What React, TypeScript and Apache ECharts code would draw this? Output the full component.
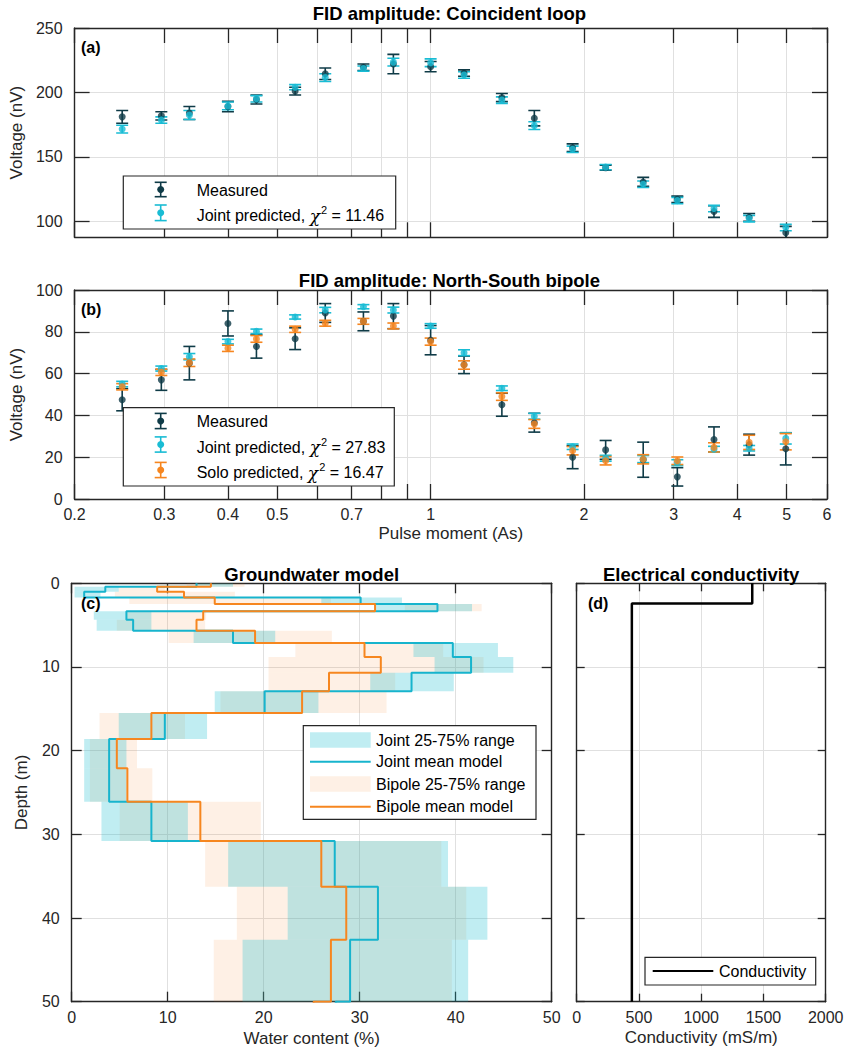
import React, { useEffect, useRef } from 'react';
import * as echarts from 'echarts';

// ---------------- data ----------------
const pulseMoments = [0.248, 0.296, 0.336, 0.40, 0.455, 0.542, 0.621, 0.738, 0.845, 1.0, 1.163, 1.38, 1.598, 1.9, 2.206, 2.614, 3.05, 3.6, 4.22, 4.98];

// (a) coincident loop
const loopMeasured = [181, 181.8, 184, 189, 194.5, 201, 214.5, 219.5, 222, 220, 215, 196, 180, 157, 141.5, 130.5, 117, 107.5, 103, 91];
const loopMeasuredErr = [5, 3.2, 5, 4, 3.5, 3, 4.5, 2.5, 7.5, 4, 2.5, 3.2, 6, 3, 2, 3.5, 2.5, 4.5, 3, 5];
const loopJoint = [171.5, 178.5, 182.5, 189.5, 195, 204, 211.5, 218.5, 223.5, 223, 213.5, 194, 174.2, 155.8, 142, 128.7, 116, 109.8, 102, 95.1];
const loopJointErr = [3, 2.5, 3.5, 3, 2.5, 2, 3, 2, 3, 3, 2.5, 2.5, 3, 2.5, 2, 2.5, 2.5, 2.5, 2.5, 2.5];

// (b) north-south bipole
const nsMeasured = [47.5, 57, 65, 84, 73, 76.7, 89, 85, 87.5, 76, 64.2, 45.1, 36.5, 20, 23.5, 18.8, 10.6, 28.5, 26, 24];
const nsMeasuredErr = [5.3, 5, 8, 6, 5.6, 5.2, 4.5, 4.5, 6, 7, 4.2, 5.5, 4.5, 5.5, 4.5, 8.4, 4.4, 6, 5, 7.7];
const nsJoint = [55, 62.4, 68.1, 75.3, 80.2, 87.1, 90.4, 92, 90.4, 82.8, 70, 53, 39.6, 25, 19.5, 19.1, 17.4, 23.8, 24.3, 29];
const nsJointErr = [1.3, 1.2, 1.5, 1.1, 1.1, 1.0, 1.3, 1.0, 1.4, 1.1, 1.4, 1.1, 1.4, 1.3, 1.4, 1.7, 1.4, 1.4, 1.3, 2.7];
const nsSolo = [53.7, 60.6, 65.2, 72.1, 76.6, 81.2, 84.1, 85, 82.8, 75.3, 64.1, 49, 35.9, 23.1, 18.3, 19, 18.3, 24.7, 27.1, 27.4];
const nsSoloErr = [1.5, 1.5, 1.8, 1.5, 1.6, 1.5, 1.4, 1.4, 1.4, 1.7, 2.0, 1.8, 2.1, 2.0, 2.0, 2.2, 1.8, 2.2, 3.4, 3.9];

const pulseTicks = [0.2, 0.3, 0.4, 0.5, 0.6, 0.7, 0.8, 0.9, 1, 2, 3, 4, 5, 6];
const pulseLabels = [0.2, 0.3, 0.4, 0.5, 0.7, 1, 2, 3, 4, 5, 6];
const loopVoltageTicks = [100, 150, 200, 250];

// (c) groundwater model (layer tops in m; last entry is the half-space)
const layerTops = [0, 0.42, 1.0, 1.7, 2.47, 3.35, 4.35, 5.66, 7.13, 8.8, 10.7, 12.9, 15.5, 18.6, 22.1, 26.1, 30.8, 36.25, 42.6, 50];
const jointMean = [13.0, 3.5, 1.3, 30.1, 38.1, 5.7, 6.4, 16.8, 39.7, 41.6, 35.4, 20.1, 9.7, 3.9, 3.9, 8.3, 27.4, 31.9, 29.0, 27.5];
const bipoleMean = [14.5, 8.9, 11.7, 14.9, 31.6, 13.7, 13.0, 19.1, 30.5, 32.2, 26.8, 24.0, 8.3, 4.7, 5.8, 13.4, 26.0, 28.6, 27.0, 25.2];
const jointLow = [13, 0.3, 0.3, 26, 31.5, 2.3, 2.6, 12.7, 35.6, 37.8, 31.1, 14.9, 4.9, 1.3, 1.3, 3.1, 16.3, 22.5, 17.8];
const jointHigh = [16.8, 4.9, 3, 34.4, 41.7, 8.3, 8.3, 21.2, 44.4, 46.0, 39.8, 25.7, 14.1, 5.7, 5.7, 12.1, 39.2, 43.3, 41.3];
const bipoleLow = [12, 4.9, 4.5, 6, 34.7, 5.7, 4.7, 10.1, 23.3, 20.5, 20.5, 15.5, 2.9, 1.9, 1.9, 5.0, 13.9, 17.2, 14.8];
const bipoleHigh = [18, 9.7, 17, 27, 42.7, 14, 13.9, 27.1, 38.7, 42.9, 33.7, 32.8, 11.8, 6.8, 8.4, 19.7, 38.5, 41.1, 39.6];

// (d) electrical conductivity
const condTops = [0, 2.4];
const condValues = [1410, 443];

// ---------------- styling ----------------
const FONT = '"Liberation Sans", Arial, Helvetica, sans-serif';
const INK = '#262626';
const MEAS = '#0f3b47';
const JOINT = '#19bcd4';
const SOLO = '#f6861f';
const JOINT_FILL = 'rgba(23,190,207,0.27)';
const BIPOLE_FILL = 'rgba(250,135,40,0.12)';
const GRID_COLOR = '#e0e0e0';

const L = (v: number) => Math.log10(v);
const X_MIN = L(0.2);
const X_MAX = L(6);
const fmtPulse = (v: number) => {
  const q = Math.pow(10, v);
  return q < 0.95 ? q.toFixed(1) : String(Math.round(q));
};
const fmtPlain = (v: number) => String(v);

const AXIS_LINE = { show: true, onZero: false, lineStyle: { color: INK, width: 1.4 } };
const TICK_LINE = { color: INK, width: 1.3 };
const GRIDLINE = { show: true, lineStyle: { color: GRID_COLOR, width: 1 } };
const LABEL = { color: INK, fontSize: 16, fontFamily: FONT };
const NAME = { color: INK, fontSize: 17, fontFamily: FONT };

function logXAxis(gridIndex: number, position: string, withLabels: boolean) {
  return {
    type: 'value', gridIndex, position, min: X_MIN, max: X_MAX,
    axisLine: AXIS_LINE,
    axisTick: { show: true, inside: true, length: 15, lineStyle: TICK_LINE, customValues: pulseTicks.map(L) },
    axisLabel: withLabels
      ? { show: true, customValues: pulseLabels.map(L), formatter: fmtPulse, margin: 7, ...LABEL }
      : { show: false },
    splitLine: position === 'bottom' ? GRIDLINE : { show: false },
    name: withLabels ? 'Pulse moment (As)' : '',
    nameLocation: 'middle', nameGap: 26, nameTextStyle: NAME,
  };
}

function valAxis(gridIndex: number, position: string, min: number, max: number, interval: number, tickLen: number, showLabels: boolean, name: string, nameGap: number, inverse = false) {
  const main = position === 'bottom' || position === 'left';
  return {
    type: 'value', gridIndex, position, min, max, interval, inverse,
    axisLine: AXIS_LINE,
    axisTick: { show: true, inside: true, length: tickLen, lineStyle: TICK_LINE },
    axisLabel: showLabels ? { show: true, margin: position === 'left' ? 12 : 8, formatter: fmtPlain, ...LABEL } : { show: false },
    splitLine: main ? GRIDLINE : { show: false },
    name, nameLocation: 'middle', nameGap, nameTextStyle: NAME,
  };
}

function loopYAxis(position: string) {
  const main = position === 'left';
  return {
    type: 'value', gridIndex: 0, position, min: 87.5, max: 250,
    axisLine: AXIS_LINE,
    axisTick: { show: true, inside: true, length: 15, lineStyle: TICK_LINE, customValues: loopVoltageTicks },
    axisLabel: main ? { show: true, customValues: loopVoltageTicks, margin: 12, formatter: fmtPlain, ...LABEL } : { show: false },
    splitLine: main ? GRIDLINE : { show: false },
    name: main ? 'Voltage (nV)' : '', nameLocation: 'middle', nameGap: 42, nameTextStyle: NAME,
  };
}

function errorBars(name: string, xi: number, yi: number, centers: number[], errs: number[], color: string) {
  return {
    type: 'custom', name, xAxisIndex: xi, yAxisIndex: yi, clip: true,
    data: pulseMoments.map((q, i) => [L(q), centers[i] - errs[i], centers[i] + errs[i]]),
    encode: { x: 0, y: [1, 2] },
    renderItem: (_p: any, api: any) => {
      const x = api.value(0);
      const a = api.coord([x, api.value(1)]);
      const b = api.coord([x, api.value(2)]);
      const st = { stroke: color, lineWidth: 1.6 };
      return {
        type: 'group', children: [
          { type: 'line', shape: { x1: a[0], y1: a[1], x2: b[0], y2: b[1] }, style: st },
          { type: 'line', shape: { x1: a[0] - 6, y1: a[1], x2: a[0] + 6, y2: a[1] }, style: st },
          { type: 'line', shape: { x1: b[0] - 6, y1: b[1], x2: b[0] + 6, y2: b[1] }, style: st },
        ],
      };
    },
  };
}

function dots(name: string, xi: number, yi: number, centers: number[], color: string) {
  return {
    type: 'scatter', name, xAxisIndex: xi, yAxisIndex: yi, clip: true,
    data: pulseMoments.map((q, i) => [L(q), centers[i]]),
    symbol: 'circle', symbolSize: 7, itemStyle: { color },
  };
}

function rangeSeries(name: string, lows: number[], highs: number[], fill: string) {
  return {
    type: 'custom', name, xAxisIndex: 4, yAxisIndex: 4, clip: true,
    data: lows.map((lo, i) => [lo, highs[i], layerTops[i], layerTops[i + 1]]),
    encode: { x: [0, 1], y: [2, 3] },
    renderItem: (_p: any, api: any) => {
      const p1 = api.coord([api.value(0), api.value(2)]);
      const p2 = api.coord([api.value(1), api.value(3)]);
      return {
        type: 'rect',
        shape: { x: Math.min(p1[0], p2[0]), y: Math.min(p1[1], p2[1]), width: Math.abs(p2[0] - p1[0]), height: Math.abs(p2[1] - p1[1]) },
        style: { fill },
      };
    },
  };
}

function profile(values: number[], tops: number[], end: number) {
  const pts: number[][] = [];
  values.forEach((v, i) => {
    const bot = i + 1 < tops.length ? tops[i + 1] : end;
    pts.push([v, tops[i]], [v, bot]);
  });
  return pts;
}

// ---------------- graphic helpers (titles, panel letters, legends) ----------------
function text(x: number, y: number, t: string, size = 16, weight = 'normal', align = 'left') {
  return {
    type: 'text', x, y, z: 101,
    style: { text: t, fill: '#000', fontSize: size, fontWeight: weight, fontFamily: FONT, align, verticalAlign: 'middle', textAlign: align, textVerticalAlign: 'middle' },
  };
}
function chiText(x: number, y: number, prefix: string, value: string) {
  return {
    type: 'text', x, y, z: 101,
    style: {
      text: `{t|${prefix}}{c|χ}{s|2}{t| = ${value}}`,
      verticalAlign: 'middle', textVerticalAlign: 'middle',
      rich: {
        t: { fontSize: 16, fontFamily: FONT, fill: '#000', lineHeight: 22 },
        c: { fontSize: 17, fontFamily: '"DejaVu Serif", "Liberation Serif", serif', fontStyle: 'italic', fill: '#000', lineHeight: 22 },
        s: { fontSize: 11, fontFamily: FONT, fill: '#000', lineHeight: 12, verticalAlign: 'top', padding: [0, 0, 0, 1] },
      },
    },
  };
}
function box(x: number, y: number, w: number, h: number) {
  return { type: 'rect', z: 100, shape: { x, y, width: w, height: h }, style: { fill: '#fff', stroke: INK, lineWidth: 1.2 } };
}
function ebIcon(cx: number, cy: number, half: number, color: string) {
  const st = { stroke: color, lineWidth: 1.6 };
  return [
    { type: 'line', z: 101, shape: { x1: cx, y1: cy - half, x2: cx, y2: cy + half }, style: st },
    { type: 'line', z: 101, shape: { x1: cx - 6, y1: cy - half, x2: cx + 6, y2: cy - half }, style: st },
    { type: 'line', z: 101, shape: { x1: cx - 6, y1: cy + half, x2: cx + 6, y2: cy + half }, style: st },
    { type: 'circle', z: 101, shape: { cx, cy, r: 3.5 }, style: { fill: color } },
  ];
}
function lineIcon(x1: number, x2: number, y: number, color: string, w = 2) {
  return { type: 'line', z: 101, shape: { x1, y1: y, x2, y2: y }, style: { stroke: color, lineWidth: w } };
}
function patchIcon(x: number, y: number, w: number, h: number, fill: string) {
  return { type: 'rect', z: 101, shape: { x, y, width: w, height: h }, style: { fill } };
}

export default function App() {
  const ref = useRef<HTMLDivElement>(null);
  useEffect(() => {
    if (!ref.current) return;
    const chart = echarts.init(ref.current, null, { renderer: 'svg' });
    const option: any = {
      animation: false,
      backgroundColor: '#fff',
      grid: [
        { left: 71.7, top: 28, width: 755.3, height: 209.3 },
        { left: 71.7, top: 290, width: 755.3, height: 209 },
        { left: 71.7, top: 583.3, width: 480, height: 418.4 },
        { left: 576.7, top: 583.3, width: 249, height: 418.4 },
      ],
      xAxis: [
        logXAxis(0, 'bottom', false),
        logXAxis(0, 'top', false),
        logXAxis(1, 'bottom', true),
        logXAxis(1, 'top', false),
        valAxis(2, 'bottom', 0, 50, 10, 10, true, 'Water content (%)', 28),
        valAxis(2, 'top', 0, 50, 10, 10, false, '', 0),
        valAxis(3, 'bottom', 0, 2000, 500, 8, true, 'Conductivity (mS/m)', 27),
        valAxis(3, 'top', 0, 2000, 500, 8, false, '', 0),
      ],
      yAxis: [
        loopYAxis('left'),
        loopYAxis('right'),
        valAxis(1, 'left', 0, 100, 20, 15, true, 'Voltage (nV)', 42),
        valAxis(1, 'right', 0, 100, 20, 15, false, '', 0),
        valAxis(2, 'left', 0, 50, 10, 10, true, 'Depth (m)', 42, true),
        valAxis(2, 'right', 0, 50, 10, 10, false, '', 0, true),
        valAxis(3, 'left', 0, 50, 10, 8, false, '', 0, true),
        valAxis(3, 'right', 0, 50, 10, 8, false, '', 0, true),
      ],
      series: [
        errorBars('Measured (loop) bars', 0, 0, loopMeasured, loopMeasuredErr, MEAS),
        dots('Measured (loop)', 0, 0, loopMeasured, MEAS),
        errorBars('Joint predicted (loop) bars', 0, 0, loopJoint, loopJointErr, JOINT),
        dots('Joint predicted (loop)', 0, 0, loopJoint, JOINT),

        errorBars('Measured (bipole) bars', 2, 2, nsMeasured, nsMeasuredErr, MEAS),
        dots('Measured (bipole)', 2, 2, nsMeasured, MEAS),
        errorBars('Joint predicted (bipole) bars', 2, 2, nsJoint, nsJointErr, JOINT),
        dots('Joint predicted (bipole)', 2, 2, nsJoint, JOINT),
        errorBars('Solo predicted bars', 2, 2, nsSolo, nsSoloErr, SOLO),
        dots('Solo predicted', 2, 2, nsSolo, SOLO),

        rangeSeries('Bipole 25-75% range', bipoleLow, bipoleHigh, BIPOLE_FILL),
        rangeSeries('Joint 25-75% range', jointLow, jointHigh, JOINT_FILL),
        {
          type: 'line', name: 'Joint mean model', xAxisIndex: 4, yAxisIndex: 4, clip: true,
          data: profile(jointMean, layerTops, 56), symbol: 'none', showSymbol: false,
          lineStyle: { color: '#17b4cd', width: 2 },
        },
        {
          type: 'line', name: 'Bipole mean model', xAxisIndex: 4, yAxisIndex: 4, clip: true,
          data: profile(bipoleMean, layerTops, 56), symbol: 'none', showSymbol: false,
          lineStyle: { color: SOLO, width: 2 },
        },
        {
          type: 'line', name: 'Conductivity', xAxisIndex: 6, yAxisIndex: 6, clip: true,
          data: profile(condValues, condTops, 50), symbol: 'none', showSymbol: false,
          lineStyle: { color: '#000', width: 2.5 },
        },
      ],
      graphic: [
        text(449.4, 13, 'FID amplitude: Coincident loop', 18.5, 'bold', 'center'),
        text(449.4, 280, 'FID amplitude: North-South bipole', 18.5, 'bold', 'center'),
        text(311.7, 574, 'Groundwater model', 18.5, 'bold', 'center'),
        text(701.2, 574, 'Electrical conductivity', 18.5, 'bold', 'center'),
        text(81, 47, '(a)', 16, 'bold'),
        text(81, 309, '(b)', 16, 'bold'),
        text(81, 603, '(c)', 16, 'bold'),
        text(588, 603, '(d)', 16, 'bold'),

        // legend (a)
        box(123.3, 176, 272.4, 53),
        ...ebIcon(160.7, 189.5, 7.2, MEAS),
        ...ebIcon(160.7, 212.8, 7.8, JOINT),
        text(196.7, 190.7, 'Measured'),
        chiText(196.7, 215.5, 'Joint predicted, ', '11.46'),

        // legend (b)
        box(123.3, 407.7, 271, 78.3),
        ...ebIcon(160.7, 421, 7.6, MEAS),
        ...ebIcon(160.7, 444.5, 7.6, JOINT),
        ...ebIcon(160.7, 470, 7.6, SOLO),
        text(196.7, 421.7, 'Measured'),
        chiText(196.7, 447, 'Joint predicted, ', '27.83'),
        chiText(196.7, 472.5, 'Solo predicted, ', '16.47'),

        // legend (c)
        box(303.3, 725.7, 232.7, 93.6),
        patchIcon(310, 732.2, 60.7, 15.6, JOINT_FILL),
        lineIcon(310, 370.7, 761.7, '#17b4cd'),
        patchIcon(310, 776.2, 60.7, 15.6, BIPOLE_FILL),
        lineIcon(310, 370.7, 806.7, SOLO),
        text(376, 740, 'Joint 25-75% range'),
        text(376, 761.7, 'Joint mean model'),
        text(376, 784, 'Bipole 25-75% range'),
        text(376, 806.7, 'Bipole mean model'),

        // legend (d)
        box(645, 957.3, 170.7, 27.7),
        lineIcon(652.7, 713.3, 971, '#000', 2.2),
        text(719, 971, 'Conductivity'),
      ],
    };
    chart.setOption(option);
    return () => chart.dispose();
  }, []);
  return <div ref={ref} style={{ position: 'fixed', left: 0, top: 0, width: 848, height: 1048, background: '#fff' }} />;
}
